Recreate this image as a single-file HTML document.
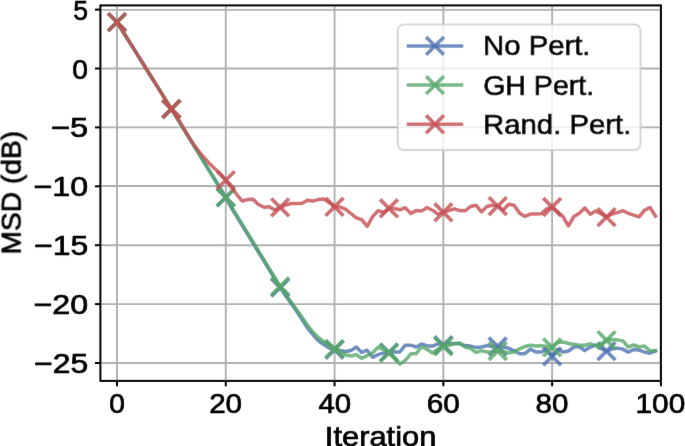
<!DOCTYPE html>
<html><head><meta charset="utf-8"><style>
html,body{margin:0;padding:0;background:#fff;}
svg{display:block;will-change:transform;}
text{font-family:'Liberation Sans',sans-serif;font-size:28.0px;fill:#000;font-kerning:none;stroke:#000;stroke-width:0.7px;}
</style></head><body>
<svg width="685" height="446" viewBox="0 0 685 446">
<defs><filter id="soft" filterUnits="userSpaceOnUse" x="0" y="0" width="685" height="446"><feConvolveMatrix order="3" kernelMatrix="0.00276 0.04704 0.00276 0.04704 0.80077 0.04704 0.00276 0.04704 0.00276" edgeMode="duplicate" preserveAlpha="false"/></filter></defs>
<rect width="685" height="446" fill="#fff"/>
<g filter="url(#soft)">
<line x1="100.4" y1="9.90" x2="660.9" y2="9.90" stroke="#b0b0b0" stroke-width="1.9"/>
<line x1="100.4" y1="68.50" x2="660.9" y2="68.50" stroke="#b0b0b0" stroke-width="1.9"/>
<line x1="100.4" y1="127.40" x2="660.9" y2="127.40" stroke="#b0b0b0" stroke-width="1.9"/>
<line x1="100.4" y1="186.05" x2="660.9" y2="186.05" stroke="#b0b0b0" stroke-width="1.9"/>
<line x1="100.4" y1="245.20" x2="660.9" y2="245.20" stroke="#b0b0b0" stroke-width="1.9"/>
<line x1="100.4" y1="304.10" x2="660.9" y2="304.10" stroke="#b0b0b0" stroke-width="1.9"/>
<line x1="100.4" y1="363.00" x2="660.9" y2="363.00" stroke="#b0b0b0" stroke-width="1.9"/>
<line x1="117.00" y1="5.4" x2="117.00" y2="380.9" stroke="#b0b0b0" stroke-width="1.9"/>
<line x1="225.78" y1="5.4" x2="225.78" y2="380.9" stroke="#b0b0b0" stroke-width="1.9"/>
<line x1="334.56" y1="5.4" x2="334.56" y2="380.9" stroke="#b0b0b0" stroke-width="1.9"/>
<line x1="443.34" y1="5.4" x2="443.34" y2="380.9" stroke="#b0b0b0" stroke-width="1.9"/>
<line x1="552.12" y1="5.4" x2="552.12" y2="380.9" stroke="#b0b0b0" stroke-width="1.9"/>
<line x1="660.90" y1="5.4" x2="660.90" y2="380.9" stroke="#b0b0b0" stroke-width="1.9"/>
<polyline points="117.00,22.10 122.44,30.79 127.88,39.48 133.32,48.17 138.76,56.86 144.19,65.55 149.63,74.24 155.07,82.93 160.51,91.62 165.95,100.31 171.39,109.00 176.83,117.84 182.27,126.68 187.71,135.52 193.15,144.36 198.59,153.20 204.02,162.04 209.46,170.88 214.90,179.72 220.34,188.56 225.78,197.40 231.22,207.50 236.66,216.40 242.10,225.30 247.54,234.20 252.97,243.10 258.41,252.00 263.85,260.90 269.29,269.80 274.73,278.70 280.17,287.60 285.61,295.70 291.05,303.20 296.49,311.00 301.93,319.30 307.37,327.80 312.80,334.50 318.24,340.50 323.68,344.50 329.12,348.00 334.56,349.70 340.00,350.60 345.44,351.50 350.88,350.60 356.32,347.00 361.75,352.40 367.19,350.20 372.63,357.30 378.07,354.70 383.51,352.90 388.95,352.40 394.39,352.00 399.83,352.00 405.27,345.20 410.71,345.20 416.14,347.00 421.58,343.90 427.02,345.90 432.46,346.10 437.90,343.80 443.34,345.20 448.78,343.40 454.22,343.40 459.66,343.80 465.10,345.60 470.54,346.10 475.97,347.40 481.41,347.00 486.85,345.60 492.29,346.50 497.73,346.50 503.17,347.00 508.61,348.30 514.05,350.60 519.49,353.70 524.92,353.70 530.36,349.20 535.80,351.90 541.24,352.00 546.68,349.20 552.12,356.40 557.56,349.20 563.00,351.90 568.44,351.00 573.88,347.00 579.32,346.50 584.75,350.60 590.19,347.00 595.63,345.20 601.07,348.60 606.51,351.10 611.95,349.10 617.39,348.10 622.83,349.10 628.27,352.10 633.71,349.60 639.14,350.10 644.58,352.10 650.02,353.20 655.46,351.10" fill="none" stroke="#4C72B0" stroke-width="3.5" stroke-linejoin="round" stroke-linecap="square" stroke-opacity="0.8"/>
<path d="M108.10,13.20L125.90,31.00M108.10,31.00L125.90,13.20" stroke="#4C72B0" stroke-width="3.7" stroke-linecap="butt" fill="none" stroke-opacity="0.8"/>
<path d="M162.49,100.10L180.29,117.90M162.49,117.90L180.29,100.10" stroke="#4C72B0" stroke-width="3.7" stroke-linecap="butt" fill="none" stroke-opacity="0.8"/>
<path d="M216.88,188.50L234.68,206.30M216.88,206.30L234.68,188.50" stroke="#4C72B0" stroke-width="3.7" stroke-linecap="butt" fill="none" stroke-opacity="0.8"/>
<path d="M271.27,278.70L289.07,296.50M271.27,296.50L289.07,278.70" stroke="#4C72B0" stroke-width="3.7" stroke-linecap="butt" fill="none" stroke-opacity="0.8"/>
<path d="M325.66,340.80L343.46,358.60M325.66,358.60L343.46,340.80" stroke="#4C72B0" stroke-width="3.7" stroke-linecap="butt" fill="none" stroke-opacity="0.8"/>
<path d="M380.05,343.50L397.85,361.30M380.05,361.30L397.85,343.50" stroke="#4C72B0" stroke-width="3.7" stroke-linecap="butt" fill="none" stroke-opacity="0.8"/>
<path d="M434.44,336.30L452.24,354.10M434.44,354.10L452.24,336.30" stroke="#4C72B0" stroke-width="3.7" stroke-linecap="butt" fill="none" stroke-opacity="0.8"/>
<path d="M488.83,337.60L506.63,355.40M488.83,355.40L506.63,337.60" stroke="#4C72B0" stroke-width="3.7" stroke-linecap="butt" fill="none" stroke-opacity="0.8"/>
<path d="M543.22,347.50L561.02,365.30M543.22,365.30L561.02,347.50" stroke="#4C72B0" stroke-width="3.7" stroke-linecap="butt" fill="none" stroke-opacity="0.8"/>
<path d="M597.61,342.20L615.41,360.00M597.61,360.00L615.41,342.20" stroke="#4C72B0" stroke-width="3.7" stroke-linecap="butt" fill="none" stroke-opacity="0.8"/>
<polyline points="117.00,22.10 122.44,30.79 127.88,39.48 133.32,48.17 138.76,56.86 144.19,65.55 149.63,74.24 155.07,82.93 160.51,91.62 165.95,100.31 171.39,109.00 176.83,117.84 182.27,126.68 187.71,135.52 193.15,144.36 198.59,153.20 204.02,162.04 209.46,170.88 214.90,179.72 220.34,188.56 225.78,197.40 231.22,206.30 236.66,215.20 242.10,224.10 247.54,233.00 252.97,241.90 258.41,250.80 263.85,259.70 269.29,268.60 274.73,277.50 280.17,286.40 285.61,294.50 291.05,302.00 296.49,309.50 301.93,317.00 307.37,325.00 312.80,332.00 318.24,337.50 323.68,341.50 329.12,345.50 334.56,349.00 340.00,351.10 345.44,354.70 350.88,356.00 356.32,354.70 361.75,358.30 367.19,355.60 372.63,352.80 378.07,347.30 383.51,349.30 388.95,352.90 394.39,357.40 399.83,364.10 405.27,360.50 410.71,353.80 416.14,353.80 421.58,346.60 427.02,349.30 432.46,353.00 437.90,349.20 443.34,346.30 448.78,345.20 454.22,343.80 459.66,342.90 465.10,347.00 470.54,348.30 475.97,352.40 481.41,350.60 486.85,352.00 492.29,351.90 497.73,351.00 503.17,351.90 508.61,352.80 514.05,351.90 519.49,348.80 524.92,346.50 530.36,345.20 535.80,346.10 541.24,345.80 546.68,346.50 552.12,347.40 557.56,342.50 563.00,342.00 568.44,343.40 573.88,344.30 579.32,345.20 584.75,345.20 590.19,343.80 595.63,345.60 601.07,344.00 606.51,340.20 611.95,339.40 617.39,339.90 622.83,340.90 628.27,347.00 633.71,345.00 639.14,347.00 644.58,346.00 650.02,351.10 655.46,350.60" fill="none" stroke="#55A868" stroke-width="3.5" stroke-linejoin="round" stroke-linecap="square" stroke-opacity="0.8"/>
<path d="M108.10,13.20L125.90,31.00M108.10,31.00L125.90,13.20" stroke="#55A868" stroke-width="3.7" stroke-linecap="butt" fill="none" stroke-opacity="0.8"/>
<path d="M162.49,100.10L180.29,117.90M162.49,117.90L180.29,100.10" stroke="#55A868" stroke-width="3.7" stroke-linecap="butt" fill="none" stroke-opacity="0.8"/>
<path d="M216.88,188.50L234.68,206.30M216.88,206.30L234.68,188.50" stroke="#55A868" stroke-width="3.7" stroke-linecap="butt" fill="none" stroke-opacity="0.8"/>
<path d="M271.27,277.50L289.07,295.30M271.27,295.30L289.07,277.50" stroke="#55A868" stroke-width="3.7" stroke-linecap="butt" fill="none" stroke-opacity="0.8"/>
<path d="M325.66,340.10L343.46,357.90M325.66,357.90L343.46,340.10" stroke="#55A868" stroke-width="3.7" stroke-linecap="butt" fill="none" stroke-opacity="0.8"/>
<path d="M380.05,344.00L397.85,361.80M380.05,361.80L397.85,344.00" stroke="#55A868" stroke-width="3.7" stroke-linecap="butt" fill="none" stroke-opacity="0.8"/>
<path d="M434.44,337.40L452.24,355.20M434.44,355.20L452.24,337.40" stroke="#55A868" stroke-width="3.7" stroke-linecap="butt" fill="none" stroke-opacity="0.8"/>
<path d="M488.83,342.10L506.63,359.90M488.83,359.90L506.63,342.10" stroke="#55A868" stroke-width="3.7" stroke-linecap="butt" fill="none" stroke-opacity="0.8"/>
<path d="M543.22,338.50L561.02,356.30M543.22,356.30L561.02,338.50" stroke="#55A868" stroke-width="3.7" stroke-linecap="butt" fill="none" stroke-opacity="0.8"/>
<path d="M597.61,331.30L615.41,349.10M597.61,349.10L615.41,331.30" stroke="#55A868" stroke-width="3.7" stroke-linecap="butt" fill="none" stroke-opacity="0.8"/>
<polyline points="117.00,22.10 122.44,30.79 127.88,39.48 133.32,48.17 138.76,56.86 144.19,65.55 149.63,74.24 155.07,82.93 160.51,91.62 165.95,100.31 171.39,109.00 176.83,117.10 182.27,126.00 187.71,135.30 193.15,143.80 198.59,151.00 204.02,157.50 209.46,163.50 214.90,168.80 220.34,173.50 225.78,180.10 231.22,187.20 236.66,194.30 242.10,201.00 247.54,199.60 252.97,199.20 258.41,204.50 263.85,207.30 269.29,206.80 274.73,210.00 280.17,207.40 285.61,205.20 291.05,203.40 296.49,203.40 301.93,203.40 307.37,200.20 312.80,201.10 318.24,199.60 323.68,198.90 329.12,202.50 334.56,206.80 340.00,207.00 345.44,209.20 350.88,213.50 356.32,217.80 361.75,219.60 367.19,226.30 372.63,216.50 378.07,210.70 383.51,212.50 388.95,208.30 394.39,208.50 399.83,209.80 405.27,207.70 410.71,213.40 416.14,210.60 421.58,211.10 427.02,207.50 432.46,210.20 437.90,214.20 443.34,212.30 448.78,210.60 454.22,208.80 459.66,210.60 465.10,210.80 470.54,206.50 475.97,205.20 481.41,211.90 486.85,206.50 492.29,205.20 497.73,206.10 503.17,210.10 508.61,204.30 514.05,205.20 519.49,213.00 524.92,216.40 530.36,214.10 535.80,214.10 541.24,213.70 546.68,208.80 552.12,207.00 557.56,211.90 563.00,216.60 568.44,225.80 573.88,216.50 579.32,213.30 584.75,207.90 590.19,214.20 595.63,211.10 601.07,213.80 606.51,217.10 611.95,214.00 617.39,212.60 622.83,210.60 628.27,213.30 633.71,215.10 639.14,216.90 644.58,210.20 650.02,207.50 655.46,216.00" fill="none" stroke="#C44E52" stroke-width="3.5" stroke-linejoin="round" stroke-linecap="square" stroke-opacity="0.8"/>
<path d="M108.10,13.20L125.90,31.00M108.10,31.00L125.90,13.20" stroke="#C44E52" stroke-width="3.7" stroke-linecap="butt" fill="none" stroke-opacity="0.8"/>
<path d="M162.49,100.10L180.29,117.90M162.49,117.90L180.29,100.10" stroke="#C44E52" stroke-width="3.7" stroke-linecap="butt" fill="none" stroke-opacity="0.8"/>
<path d="M216.88,171.20L234.68,189.00M216.88,189.00L234.68,171.20" stroke="#C44E52" stroke-width="3.7" stroke-linecap="butt" fill="none" stroke-opacity="0.8"/>
<path d="M271.27,198.50L289.07,216.30M271.27,216.30L289.07,198.50" stroke="#C44E52" stroke-width="3.7" stroke-linecap="butt" fill="none" stroke-opacity="0.8"/>
<path d="M325.66,197.90L343.46,215.70M325.66,215.70L343.46,197.90" stroke="#C44E52" stroke-width="3.7" stroke-linecap="butt" fill="none" stroke-opacity="0.8"/>
<path d="M380.05,199.40L397.85,217.20M380.05,217.20L397.85,199.40" stroke="#C44E52" stroke-width="3.7" stroke-linecap="butt" fill="none" stroke-opacity="0.8"/>
<path d="M434.44,203.40L452.24,221.20M434.44,221.20L452.24,203.40" stroke="#C44E52" stroke-width="3.7" stroke-linecap="butt" fill="none" stroke-opacity="0.8"/>
<path d="M488.83,197.20L506.63,215.00M488.83,215.00L506.63,197.20" stroke="#C44E52" stroke-width="3.7" stroke-linecap="butt" fill="none" stroke-opacity="0.8"/>
<path d="M543.22,198.10L561.02,215.90M543.22,215.90L561.02,198.10" stroke="#C44E52" stroke-width="3.7" stroke-linecap="butt" fill="none" stroke-opacity="0.8"/>
<path d="M597.61,208.20L615.41,226.00M597.61,226.00L615.41,208.20" stroke="#C44E52" stroke-width="3.7" stroke-linecap="butt" fill="none" stroke-opacity="0.8"/>
<rect x="100.4" y="5.4" width="560.50" height="375.50" fill="none" stroke="#000" stroke-width="2.0"/>
<line x1="95.00" y1="9.60" x2="100.4" y2="9.60" stroke="#000" stroke-width="2.0"/>
<line x1="95.00" y1="68.50" x2="100.4" y2="68.50" stroke="#000" stroke-width="2.0"/>
<line x1="95.00" y1="127.40" x2="100.4" y2="127.40" stroke="#000" stroke-width="2.0"/>
<line x1="95.00" y1="186.30" x2="100.4" y2="186.30" stroke="#000" stroke-width="2.0"/>
<line x1="95.00" y1="245.20" x2="100.4" y2="245.20" stroke="#000" stroke-width="2.0"/>
<line x1="95.00" y1="304.10" x2="100.4" y2="304.10" stroke="#000" stroke-width="2.0"/>
<line x1="95.00" y1="363.00" x2="100.4" y2="363.00" stroke="#000" stroke-width="2.0"/>
<line x1="117.00" y1="380.9" x2="117.00" y2="386.30" stroke="#000" stroke-width="2.0"/>
<line x1="225.78" y1="380.9" x2="225.78" y2="386.30" stroke="#000" stroke-width="2.0"/>
<line x1="334.56" y1="380.9" x2="334.56" y2="386.30" stroke="#000" stroke-width="2.0"/>
<line x1="443.34" y1="380.9" x2="443.34" y2="386.30" stroke="#000" stroke-width="2.0"/>
<line x1="552.12" y1="380.9" x2="552.12" y2="386.30" stroke="#000" stroke-width="2.0"/>
<line x1="660.90" y1="380.9" x2="660.90" y2="386.30" stroke="#000" stroke-width="2.0"/>
<text x="73.14" y="19.60" textLength="14.77" lengthAdjust="spacingAndGlyphs">5</text>
<text x="72.25" y="78.50" textLength="15.65" lengthAdjust="spacingAndGlyphs">0</text>
<text x="51.00" y="137.40" textLength="37.17" lengthAdjust="spacingAndGlyphs">−5</text>
<text x="33.47" y="196.30" textLength="54.59" lengthAdjust="spacingAndGlyphs">−10</text>
<text x="34.04" y="255.20" textLength="54.10" lengthAdjust="spacingAndGlyphs">−15</text>
<text x="33.47" y="314.10" textLength="54.59" lengthAdjust="spacingAndGlyphs">−20</text>
<text x="34.04" y="373.00" textLength="54.10" lengthAdjust="spacingAndGlyphs">−25</text>
<text x="109.17" y="412.80" textLength="15.65" lengthAdjust="spacingAndGlyphs">0</text>
<text x="209.17" y="412.80" textLength="32.89" lengthAdjust="spacingAndGlyphs">20</text>
<text x="318.44" y="412.80" textLength="32.72" lengthAdjust="spacingAndGlyphs">40</text>
<text x="426.66" y="412.80" textLength="33.00" lengthAdjust="spacingAndGlyphs">60</text>
<text x="535.64" y="412.80" textLength="32.82" lengthAdjust="spacingAndGlyphs">80</text>
<text x="635.50" y="412.80" textLength="49.69" lengthAdjust="spacingAndGlyphs">100</text>
<text x="324.85" y="445.80" textLength="111.45" lengthAdjust="spacingAndGlyphs">Iteration</text>
<text x="-2.31" y="0" textLength="123.76" lengthAdjust="spacingAndGlyphs" transform="translate(20.7,252.3) rotate(-90)">MSD (dB)</text>
<rect x="397.8" y="24.4" width="242.70" height="125.60" rx="6" ry="6" fill="#fff" fill-opacity="0.8" stroke="#ccc" stroke-opacity="0.8" stroke-width="2.0"/>
<line x1="408.5" y1="45.90" x2="461.5" y2="45.90" stroke="#4C72B0" stroke-width="3.5" stroke-linecap="square" stroke-opacity="0.8"/>
<path d="M426.10,37.00L443.90,54.80M426.10,54.80L443.90,37.00" stroke="#4C72B0" stroke-width="3.7" stroke-linecap="butt" fill="none" stroke-opacity="0.8"/>
<text x="483.10" y="55.30" textLength="107.37" lengthAdjust="spacingAndGlyphs">No Pert.</text>
<line x1="408.5" y1="85.10" x2="461.5" y2="85.10" stroke="#55A868" stroke-width="3.5" stroke-linecap="square" stroke-opacity="0.8"/>
<path d="M426.10,76.20L443.90,94.00M426.10,94.00L443.90,76.20" stroke="#55A868" stroke-width="3.7" stroke-linecap="butt" fill="none" stroke-opacity="0.8"/>
<text x="483.17" y="94.50" textLength="110.94" lengthAdjust="spacingAndGlyphs">GH Pert.</text>
<line x1="408.5" y1="124.30" x2="461.5" y2="124.30" stroke="#C44E52" stroke-width="3.5" stroke-linecap="square" stroke-opacity="0.8"/>
<path d="M426.10,115.40L443.90,133.20M426.10,133.20L443.90,115.40" stroke="#C44E52" stroke-width="3.7" stroke-linecap="butt" fill="none" stroke-opacity="0.8"/>
<text x="483.10" y="133.60" textLength="148.28" lengthAdjust="spacingAndGlyphs">Rand. Pert.</text>
</g>
</svg>
</body></html>
